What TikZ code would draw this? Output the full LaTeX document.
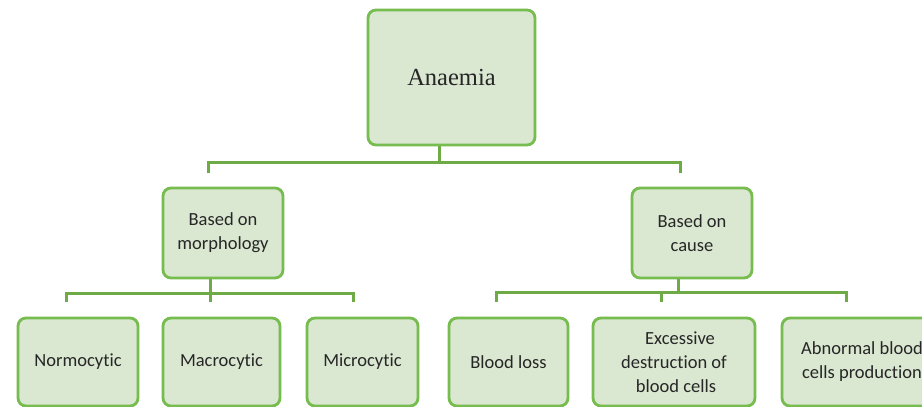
\documentclass[tikz,border=0pt]{standalone}
\usepackage{fontspec}
\setmainfont{Carlito}[Ligatures=NoCommon]
\newfontfamily\serifont{Liberation Serif}
\definecolor{boxline}{RGB}{118,188,78}
\definecolor{boxfill}{RGB}{218,231,209}
\definecolor{connline}{RGB}{110,170,70}
\tikzset{
  gbox/.style={draw=boxline, line width=2.8pt, fill=boxfill, rounded corners=8pt,
    inner sep=0pt, align=center, font=\fontsize{18.5}{24}\selectfont, text=black!85},
  conn/.style={draw=connline, line width=3pt}
}
\begin{document}
\begin{tikzpicture}[x=1pt,y=-1pt]
\useasboundingbox (0,0) rectangle (922,407);
\clip (0,0) rectangle (922,407);
\fill[white] (0,0) rectangle (922,407);
% nodes
\node[gbox, minimum width=167pt, minimum height=135pt, font=\serifont\fontsize{24.5}{28}\selectfont] (root) at (451.5,77.5) {Anaemia};
\node[gbox, minimum width=120pt, minimum height=90pt] (morph) at (223,233) {Based on\\morphology};
\node[gbox, minimum width=120pt, minimum height=90pt] (cause) at (692,233) {Based on\\cause};
\node[gbox, minimum width=120pt, minimum height=88pt] (normo) at (78,362) {Normocytic};
\node[gbox, minimum width=117pt, minimum height=88pt] (macro) at (221.5,362) {Macrocytic};
\node[gbox, minimum width=111pt, minimum height=88pt] (micro) at (362.5,362) {Microcytic};
\node[gbox, minimum width=119pt, minimum height=88pt] (loss) at (508.5,362) {Blood loss};
\node[gbox, minimum width=162pt, minimum height=88pt] (destr) at (674,362) {\hspace*{12pt}Excessive\\destruction of\\\hspace*{4pt}blood cells};
\node[gbox, minimum width=160pt, minimum height=88pt] (abn) at (862,362) {Abnormal blood\\cells production};
% connector coordinates
\coordinate (rj) at (439,162);
\coordinate (rl) at (208,162);
\coordinate (rr) at (680,162);
\coordinate (rlt) at (208,173);
\coordinate (rrt) at (680,173);
\coordinate (mj) at (210,293);
\coordinate (ml) at (66,293);
\coordinate (mr) at (353,293);
\coordinate (mlt) at (66,302);
\coordinate (mmt) at (210,302);
\coordinate (mrt) at (353,302);
\coordinate (cj) at (678,292);
\coordinate (cl) at (496,292);
\coordinate (cr) at (846,292);
\coordinate (clt) at (496,302);
\coordinate (cmt) at (661,302);
\coordinate (crt) at (846,302);
% connectors
\draw[conn] (root.south -| rj) -- (rj);
\draw[conn] (rlt) -- (rl) -- (rr) -- (rrt);
\draw[conn] (morph.south -| mj) -- (mj);
\draw[conn] (mlt) -- (ml) -- (mr) -- (mrt);
\draw[conn] (mj) -- (mmt);
\draw[conn] (cause.south -| cj) -- (cj);
\draw[conn] (clt) -- (cl) -- (cr) -- (crt);
\draw[conn] (cmt |- cl) -- (cmt);
\end{tikzpicture}
\end{document}
